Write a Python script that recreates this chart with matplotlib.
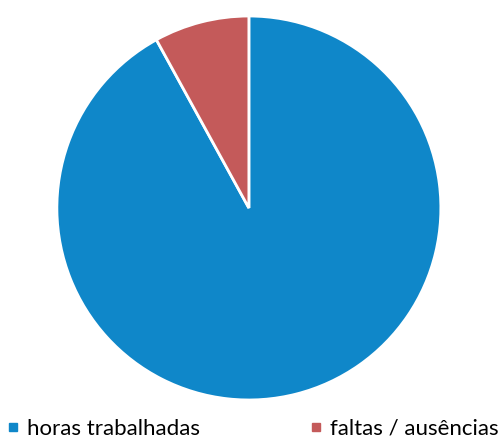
import matplotlib.pyplot as plt
from matplotlib.lines import Line2D

labels = ["horas trabalhadas", "faltas / ausências"]
values = [92, 8]
colors = ["#0F87C9", "#C45A5A"]

plt.rcParams["font.family"] = ["Lato", "DejaVu Sans"]

fig = plt.figure(figsize=(4.99, 4.41), dpi=100)
ax = fig.add_axes([0.114, 0.093, 0.7695, 0.8707])
ax.pie(values, colors=colors, startangle=90, counterclock=False,
       wedgeprops=dict(edgecolor="white", linewidth=2))
ax.set_xlim(-1.0, 1.0)
ax.set_ylim(-1.0, 1.0)

handles = [Line2D([], [], marker="s", linestyle="none", markersize=6,
                  markerfacecolor=c, markeredgecolor=c) for c in colors]
fig.legend(handles, labels, ncol=2, loc="lower left",
           bbox_to_anchor=(-0.028, -0.04), frameon=False, fontsize=16,
           handlelength=0.6, handletextpad=0.35, columnspacing=4.9)

fig.savefig("out.png", dpi=100, facecolor="white")
